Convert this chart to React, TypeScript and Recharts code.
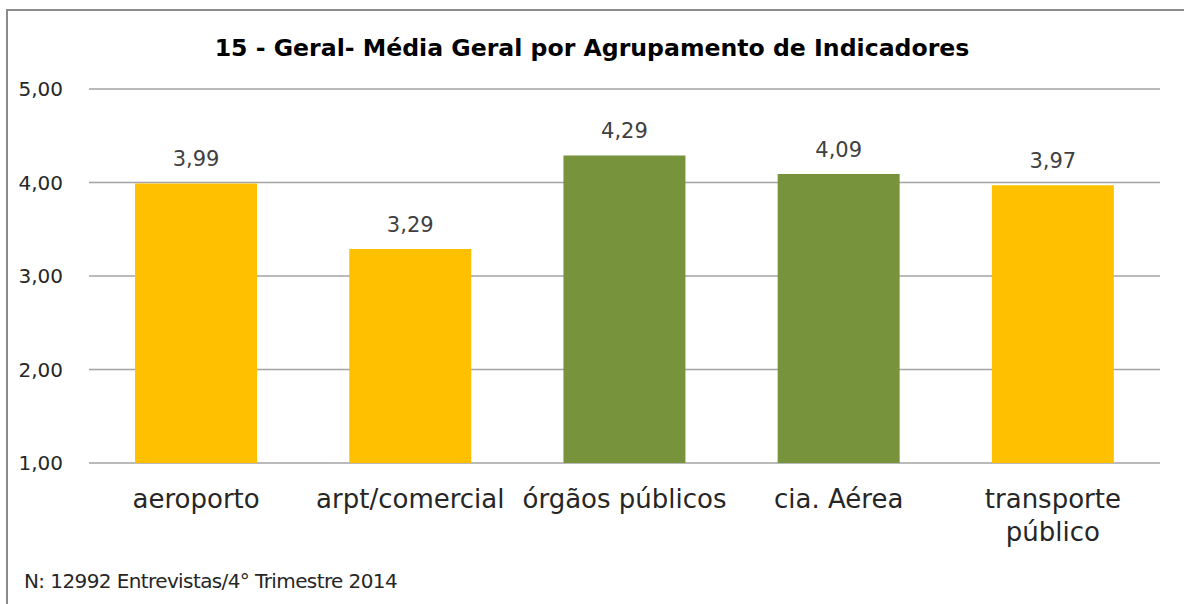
import { Bar, BarChart, CartesianGrid, Cell, LabelList, XAxis, YAxis } from "recharts";

const categories = ["aeroporto", "arpt/comercial", "órgãos públicos", "cia. Aérea", "transporte público"];
const medias = [3.99, 3.29, 4.29, 4.09, 3.97];
const yTicks = [1, 2, 3, 4, 5];
const title = "15 - Geral- Média Geral por Agrupamento de Indicadores";
const footnote = "N: 12992 Entrevistas/4° Trimestre 2014";

const YELLOW = "#FFC000";
const GREEN = "#77933C";
const barColors = [YELLOW, YELLOW, GREEN, GREEN, YELLOW];
const FONT = "'DejaVu Sans', sans-serif";

const data = categories.map((name, i) => ({ name, value: medias[i] }));

const fmt = (v: number) => v.toFixed(2).replace(".", ",");

// wraps long category names onto two lines like the original
function CategoryTick(props: any) {
  const { x, y, payload } = props;
  const words = String(payload.value);
  const lines = words === "transporte público" ? ["transporte", "público"] : [words];
  return (
    <text x={x} y={y + 37} textAnchor="middle" fill="#262626" fontSize={26} fontFamily={FONT}>
      {lines.map((l, i) => (
        <tspan key={i} x={x} dy={i === 0 ? 0 : 33}>
          {l}
        </tspan>
      ))}
    </text>
  );
}

export default function App() {
  return (
    <div
      style={{
        position: "absolute",
        left: 0,
        top: 0,
        width: 1184,
        height: 604,
        overflow: "hidden",
        background: "#fff",
        fontFamily: FONT,
      }}
    >
      <div
        style={{
          position: "absolute",
          left: 6,
          top: 9,
          width: 1300,
          height: 700,
          border: "2px solid #8a8a8a",
        }}
      />
      <div
        style={{
          position: "absolute",
          left: 0,
          top: 33,
          width: 1184,
          textAlign: "center",
          fontWeight: "bold",
          fontSize: 23.6,
          color: "#000",
          lineHeight: "30px",
        }}
      >
        {title}
      </div>
      <BarChart
        width={1184}
        height={604}
        data={data}
        margin={{ top: 89, right: 24, left: 0, bottom: 111 }}
        barCategoryGap="21.5%"
        style={{ position: "absolute", left: 0, top: 0 }}
      >
        <CartesianGrid vertical={false} stroke="#A3A3A3" strokeWidth={1.5} />
        <XAxis
          dataKey="name"
          height={30}
          tickLine={false}
          axisLine={false}
          interval={0}
          tick={<CategoryTick />}
        />
        <YAxis
          width={89}
          domain={[1, 5]}
          ticks={yTicks}
          tickFormatter={fmt}
          tickLine={false}
          axisLine={false}
          tickSize={24}
          tick={{ fill: "#262626", fontSize: 20, fontFamily: FONT }}
        />
        <Bar dataKey="value" isAnimationActive={false}>
          {data.map((_, i) => (
            <Cell key={i} fill={barColors[i]} />
          ))}
          <LabelList
            dataKey="value"
            position="top"
            offset={17}
            formatter={(v: any) => fmt(Number(v))}
            fill="#404040"
            fontSize={21}
            fontFamily={FONT}
          />
        </Bar>
      </BarChart>
      <div
        style={{
          position: "absolute",
          left: 24,
          top: 567,
          fontSize: 20,
          color: "#262626",
          letterSpacing: -0.6,
          lineHeight: "28px",
        }}
      >
        {footnote}
      </div>
    </div>
  );
}
